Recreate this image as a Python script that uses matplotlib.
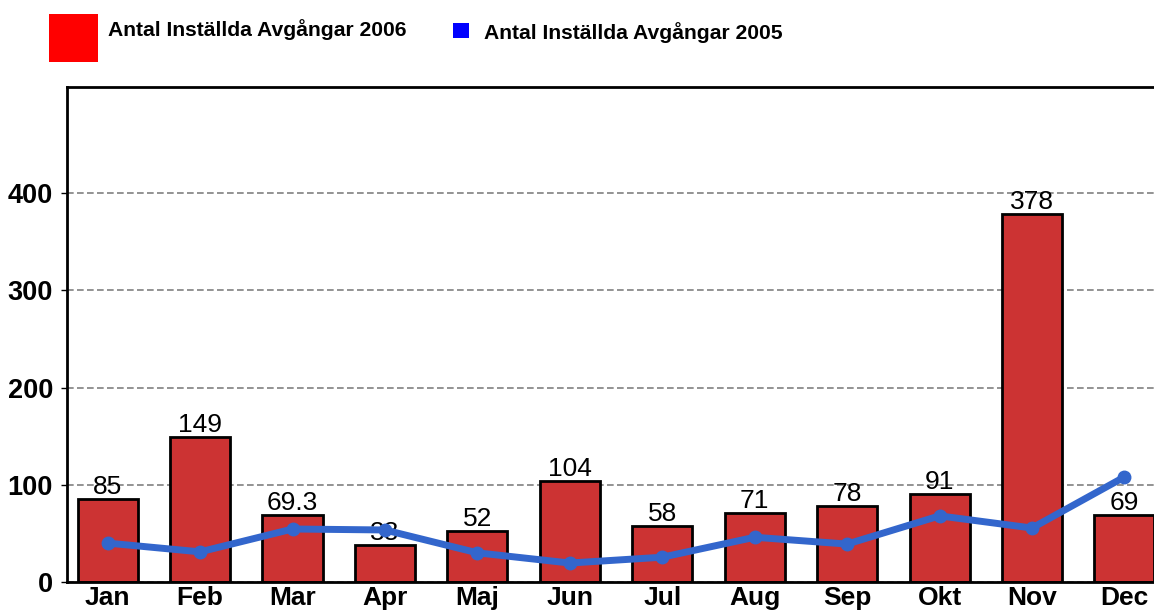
import numpy as np
import matplotlib.pyplot as plt
from matplotlib.patches import Rectangle

months = ["Jan", "Feb", "Mar", "Apr", "Maj", "Jun", "Jul", "Aug", "Sep", "Okt", "Nov", "Dec"]
cancel_2006 = [85, 149, 69.3, 38, 52, 104, 58, 71, 78, 91, 378, 69]
cancel_2006_labels = ["85", "149", "69.3", "38", "52", "104", "58", "71", "78", "91", "378", "69"]
cancel_2005 = [40, 31, 54.5, 53.5, 30, 19.5, 25.5, 46, 39, 68, 55.5, 108]
yticks = [0, 100, 200, 300, 400]

plt.rcParams['font.family'] = ['Liberation Sans', 'DejaVu Sans']

fig = plt.figure(figsize=(11.54, 6.12), dpi=100)
W, H = 1154, 612
# axes box in pixels: left 67, top 87, bottom 582, runs off right edge
ax = fig.add_axes([67 / W, (H - 582) / H, (W - 67) / W, (582 - 87) / H])

x = np.arange(len(months))
ax.bar(x, cancel_2006, width=0.65, color="#CC3333", edgecolor="black",
       linewidth=2, zorder=2)
ax.plot(x, cancel_2005, color="#3366CC", linewidth=5, marker="o", markersize=9,
        zorder=4)

for xi, v, lab in zip(x, cancel_2006, cancel_2006_labels):
    ax.annotate(lab, (xi, v), xytext=(0, 0), textcoords="offset points",
                ha="center", va="bottom", fontsize=19, zorder=3)

ax.set_xlim(-0.44, 11.32)
ax.set_ylim(0, 509)
ax.set_yticks(yticks)
ax.set_yticklabels([str(t) for t in yticks], fontsize=19.5, fontweight="bold")
ax.set_xticks(x)
ax.set_xticklabels(months, fontsize=19, fontweight="bold")
ax.tick_params(axis="x", length=0, pad=3)
ax.tick_params(axis="y", length=4, width=1, pad=6)
ax.yaxis.grid(True, linestyle=(0, (4, 2)), color="#808080", linewidth=1.2, zorder=0)
ax.set_axisbelow(True)

for side in ["left", "bottom", "top"]:
    ax.spines[side].set_linewidth(2)
    ax.spines[side].set_color("black")
ax.spines["right"].set_visible(False)

# legend drawn in figure pixels
def px(xp, yp):
    return xp / W, (H - yp) / H

fig.add_artist(Rectangle(px(49, 62), 49 / W, 48 / H, facecolor="#FF0000",
                         edgecolor="none", transform=fig.transFigure))
fig.add_artist(Rectangle(px(453, 38), 16 / W, 15 / H, facecolor="#0000FF",
                         edgecolor="none", transform=fig.transFigure))
fig.text(*px(108, 30), "Antal Inställda Avgångar 2006", fontsize=15.2,
         fontweight="bold", va="center", ha="left")
fig.text(*px(484, 33), "Antal Inställda Avgångar 2005", fontsize=15.2,
         fontweight="bold", va="center", ha="left")

fig.savefig("out.png", dpi=100)
